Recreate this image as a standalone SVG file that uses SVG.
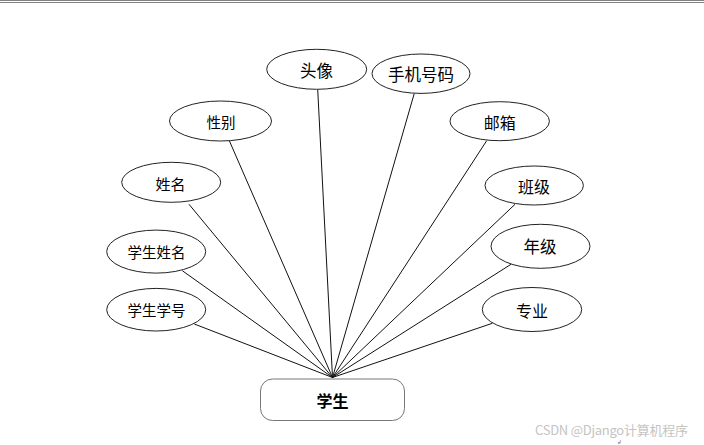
<svg xmlns="http://www.w3.org/2000/svg" width="704" height="445" viewBox="0 0 704 445">
<style>
.e{fill:#fff;stroke:#222;stroke-width:1}
.t{font-family:"Noto Sans CJK SC","Noto Sans",sans-serif;fill:#000;text-anchor:middle;dominant-baseline:central}
.c line{stroke:#111;stroke-width:1}
</style>
<rect width="704" height="445" fill="#fff"/>
<line x1="0" y1="0.5" x2="704" y2="0.5" stroke="#808080"/>
<line x1="0" y1="2.5" x2="704" y2="2.5" stroke="#808080"/>
<g id="connectors" class="c">
<line x1="194.3" y1="324" x2="332.5" y2="377.5"/>
<line x1="182.3" y1="270.7" x2="332.5" y2="377.5"/>
<line x1="189" y1="204.3" x2="332.5" y2="377.5"/>
<line x1="229.3" y1="140.7" x2="332.5" y2="377.5"/>
<line x1="317.7" y1="89.3" x2="332.5" y2="377.5"/>
<line x1="414.3" y1="93.3" x2="332.5" y2="377.5"/>
<line x1="486.7" y1="140.7" x2="332.5" y2="377.5"/>
<line x1="515" y1="204.3" x2="332.5" y2="377.5"/>
<line x1="511" y1="264.3" x2="332.5" y2="377.5"/>
<line x1="492.3" y1="323.3" x2="332.5" y2="377.5"/>
</g>
<g id="student">
<rect x="260.5" y="379" width="144" height="41.5" rx="12" fill="#fff" stroke="#777"/>
<text class="t" x="332.5" y="400" font-size="16" font-weight="bold">学生</text>
</g>
<g id="avatar">
<ellipse class="e" cx="316.7" cy="69.3" rx="50" ry="20"/>
<text class="t" x="316.5" y="69.5" font-size="16.5">头像</text>
</g>
<g id="phone">
<ellipse class="e" cx="421" cy="73.7" rx="49" ry="19.7"/>
<text class="t" x="421" y="74" font-size="16.5">手机号码</text>
</g>
<g id="gender">
<ellipse class="e" cx="220.5" cy="121" rx="51" ry="20"/>
<text class="t" x="221" y="121" font-size="14.5">性别</text>
</g>
<g id="email">
<ellipse class="e" cx="499.7" cy="121.2" rx="49.7" ry="19.5"/>
<text class="t" x="499.7" y="121.5" font-size="16">邮箱</text>
</g>
<g id="name">
<ellipse class="e" cx="171.2" cy="182.3" rx="49.5" ry="20"/>
<text class="t" x="170.5" y="183" font-size="15">姓名</text>
</g>
<g id="class">
<ellipse class="e" cx="534.2" cy="185.5" rx="49.2" ry="19.5"/>
<text class="t" x="534" y="186" font-size="16">班级</text>
</g>
<g id="grade">
<ellipse class="e" cx="540.5" cy="246.3" rx="49.5" ry="22"/>
<text class="t" x="540" y="245.5" font-size="16.5">年级</text>
</g>
<g id="studentName">
<ellipse class="e" cx="156.2" cy="251.6" rx="49.5" ry="21.5"/>
<text class="t" x="156.5" y="251.5" font-size="14.5">学生姓名</text>
</g>
<g id="studentNo">
<ellipse class="e" cx="156.2" cy="309.7" rx="49.5" ry="21.3"/>
<text class="t" x="156.5" y="309.5" font-size="14.5">学生学号</text>
</g>
<g id="major">
<ellipse class="e" cx="532" cy="309.5" rx="49.7" ry="22"/>
<text class="t" x="532" y="309.5" font-size="16">专业</text>
</g>
<text x="535" y="434.5" font-family="Noto Sans CJK SC,Noto Sans,sans-serif" font-size="13" fill="#c4c4c4" textLength="153">CSDN @Django计算机程序</text>
<text x="617" y="444" font-family="DejaVu Sans,sans-serif" font-size="5.5" fill="#555">↲</text>
</svg>
